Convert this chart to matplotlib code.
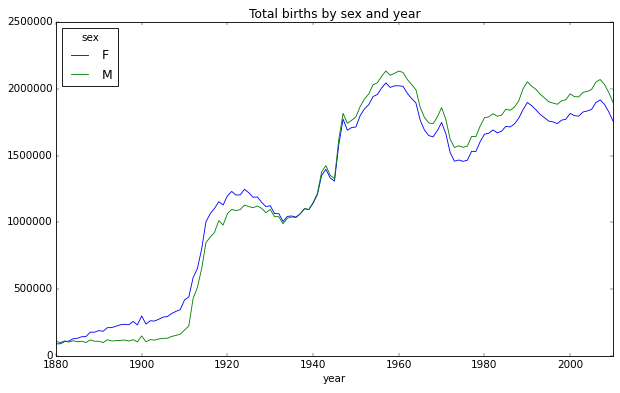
import matplotlib
matplotlib.use('Agg')
import matplotlib.pyplot as plt

plt.style.use('classic')

years = list(range(1880, 2011))

# births per year (approximate)
births_f = [
    90993, 91955, 107851, 112322, 129021, 133056, 144538, 145983, 178631, 178369,
    190377, 185486, 212350, 212908, 222923, 233632, 237924, 234199, 258771, 233022,
    299873, 239351, 264079, 261976, 275375, 291641, 295301, 318558, 334277, 347191,
    419744, 442302, 586620, 654746, 801094, 1005000, 1065000, 1105000, 1155000, 1130000,
    1198000, 1232000, 1205000, 1206000, 1248000, 1222000, 1188000, 1190000, 1150000, 1118000,
    1125000, 1066000, 1066000, 1007000, 1045000, 1048000, 1040000, 1064000, 1103000, 1096000,
    1143000, 1207000, 1352000, 1397000, 1333000, 1309000, 1580000, 1773000, 1690000, 1710000,
    1714000, 1800000, 1850000, 1881000, 1942000, 1957000, 2006000, 2044000, 2010000, 2022000,
    2022000, 2018000, 1966000, 1927000, 1894000, 1765000, 1691000, 1650000, 1640000, 1686000,
    1748000, 1662000, 1522000, 1458000, 1467000, 1457000, 1465000, 1532000, 1531000, 1604000,
    1660000, 1667000, 1692000, 1670000, 1683000, 1719000, 1714000, 1737000, 1779000, 1843000,
    1897000, 1874000, 1843000, 1808000, 1784000, 1758000, 1752000, 1739000, 1765000, 1772000,
    1815000, 1799000, 1795000, 1826000, 1834000, 1845000, 1896468, 1916888, 1883645, 1827643,
    1759010,
]

births_m = [
    110491, 100745, 113688, 104629, 114445, 107800, 110784, 101414, 120853, 110584,
    111025, 101196, 122037, 112317, 115772, 117398, 119575, 112760, 122703, 106218,
    150554, 106478, 122660, 119240, 128129, 132319, 133157, 146838, 154339, 163983,
    194209, 225964, 429926, 512482, 654367, 848647, 890142, 925626, 1013720, 980214,
    1064408, 1098000, 1088000, 1096000, 1130000, 1118000, 1110000, 1123000, 1105000, 1073000,
    1097000, 1043000, 1043000, 990000, 1031000, 1041000, 1036000, 1064000, 1103000, 1096000,
    1148000, 1216000, 1378000, 1425000, 1353000, 1328000, 1620000, 1816000, 1742000, 1764000,
    1790000, 1868000, 1924000, 1961000, 2030000, 2044000, 2094000, 2133000, 2101000, 2115000,
    2132000, 2122000, 2069000, 2032000, 1993000, 1862000, 1785000, 1745000, 1738000, 1789000,
    1859000, 1769000, 1622000, 1560000, 1573000, 1562000, 1570000, 1643000, 1642000, 1721000,
    1783000, 1790000, 1813000, 1794000, 1803000, 1847000, 1839000, 1863000, 1909000, 1999000,
    2052000, 2020000, 1996000, 1960000, 1931000, 1903000, 1893000, 1884000, 1910000, 1918000,
    1962000, 1941000, 1939000, 1973000, 1980000, 1994000, 2050234, 2069242, 2032310, 1973359,
    1898382,
]

fig = plt.figure(figsize=(10, 6.34), dpi=62)
ax = fig.add_axes([0.0903, 0.094, 0.8984, 0.85])

ax.plot(years, births_f, color='b', label='F')
ax.plot(years, births_m, color='g', label='M')

ax.set_xlim(1880, 2010)
ax.set_ylim(0, 2500000)
ax.set_xlabel('year')
ax.set_title('Total births by sex and year')
ax.legend(loc='upper left', title='sex')

plt.savefig('out.png', dpi=62)
